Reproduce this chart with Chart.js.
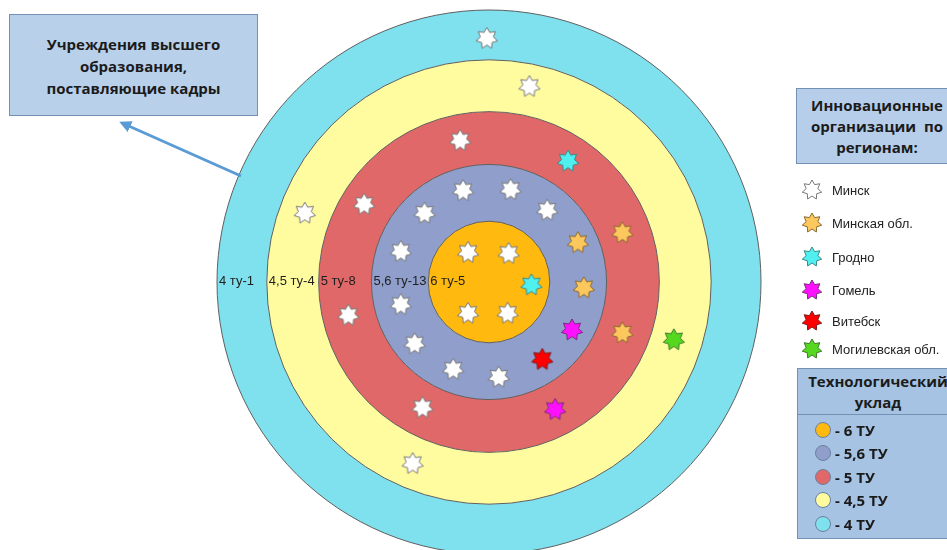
<!DOCTYPE html>
<html lang="ru">
<head>
<meta charset="utf-8">
<script src="https://cdn.jsdelivr.net/npm/chart.js@4.4.1/dist/chart.umd.min.js"></script>
<style>
    html, body { margin: 0; padding: 0; width: 947px; height: 550px; overflow: hidden; background: #ffffff; }
    #rings { position: absolute; left: 216px; top: 9px; }
    #stars { position: absolute; left: 0; top: 0; }
    #arrow { position: absolute; left: 0; top: 0; pointer-events: none; }
    .box {
        position: absolute; box-sizing: border-box; border: 1px solid #7391b3;
        font-family: 'Open Sans', sans-serif; font-weight: 700; font-size: 15px;
        color: #1b1b1b; text-align: center; white-space: pre;
    }
    #callout { left: 9px; top: 14px; width: 249px; height: 102px; background: #b9d0ea;
        display: flex; flex-direction: column; justify-content: center; line-height: 22px; padding-top: 2px; }
    #regionHead { left: 796px; top: 88px; width: 162px; height: 76px; background: #b6cee9;
        display: flex; flex-direction: column; justify-content: center; line-height: 21px; }
    #regionList { position: absolute; left: 800px; top: 0; font-family: 'Liberation Sans', Arial, sans-serif;
        font-size: 13px; color: #222222; }
    .regionRow { position: absolute; left: 0; height: 24px; display: flex; align-items: center; white-space: nowrap; }
    .regionRow span { margin-left: 8px; }
    #tuBox { left: 797px; top: 368px; width: 162px; height: 171px; background: #a6c3e4; text-align: left; }
    #tuHead { height: 46px; border-bottom: 1px solid #7391b3; text-align: center; line-height: 21px; padding-top: 2px; box-sizing: border-box; }
    .tuRow { position: absolute; left: 17px; height: 23px; display: flex; align-items: center; }
    .tuDot { width: 16px; height: 16px; border-radius: 50%; box-sizing: border-box; border: 1px solid #6c7fa0; margin-right: 4px; }
</style>
</head>
<body>
<canvas id="rings" width="546" height="546"></canvas>
<canvas id="stars" width="947" height="550"></canvas>
<svg id="arrow" width="947" height="550">
    <defs>
        <marker id="head" markerWidth="4" markerHeight="4" refX="3" refY="2" orient="auto" markerUnits="strokeWidth">
            <path d="M0,0 L4,2 L0,4 Z" fill="#5b9bd5"/>
        </marker>
    </defs>
    <line x1="241" y1="176" x2="122" y2="123" stroke="#5b9bd5" stroke-width="3" marker-end="url(#head)"/>
</svg>
<div id="callout" class="box">Учреждения высшего
образования,
поставляющие кадры</div>
<div id="regionHead" class="box">Инновационные
организации  по
регионам:</div>
<div id="regionList"></div>
<div id="tuBox" class="box"><div id="tuHead">Технологический
уклад</div></div>

<script>
// rings, outermost first
const ringLevels = ['4', '4,5', '5', '5,6', '6'];
const ringCounts = [1, 4, 8, 13, 5];

// organisations by region, position on the diagram (0,0 = centre)
const regionNames = ['Минск', 'Минская обл.', 'Гродно', 'Гомель', 'Витебск', 'Могилевская обл.'];
const minskPoints = [
    [-2, 248], [41, 199], [-186, 70], [-77, -185], [-29, 144], [-126, 79], [-142, -34],
    [-67, -128], [-26, 93], [22, 94], [59, 73], [-65, 70], [-89, 31], [-89, -23],
    [-75, -63], [-36, -89], [10, -97], [-21, 30], [20, 29], [-21, -32], [19, -32]
];
const minskRegionPoints = [[135, 50], [90, 40], [96, -6], [135, -52]];
const grodnoPoints = [[80, 123], [43, -3]];
const gomelPoints = [[84, -49], [67, -130]];
const vitebskPoints = [[54, -79]];
const mogilevPoints = [[187, -59]];
const regionPoints = [minskPoints, minskRegionPoints, grodnoPoints, gomelPoints, vitebskPoints, mogilevPoints];

// styles
const ringColors = ['#7fe0ee', '#fffc9f', '#e06868', '#8f9eca', '#ffb90f'];
const ringWeights = [50, 52, 53, 57, 61];
const starColors = ['#ffffff', '#fcc75c', '#4ff0ef', '#ff10ff', '#ff0000', '#56d81f'];
const starBorders = ['#777777', '#8a6a30', '#3a8a8a', '#7a2a7a', '#7a1a1a', '#3a7a2a'];
const legendRowTops = [178, 211, 245, 278, 309, 337];

function makeStar(fill, stroke, outer) {
    const inner = outer * 0.6;
    const size = Math.ceil(outer * 2 + 4);
    const c = document.createElement('canvas');
    c.width = size;
    c.height = size;
    const g = c.getContext('2d');
    g.translate(size / 2, size / 2);
    g.beginPath();
    for (let i = 0; i < 14; i++) {
        const r = i % 2 === 0 ? outer : inner;
        const a = -Math.PI / 2 + i * Math.PI / 7;
        if (i === 0) g.moveTo(r * Math.cos(a), r * Math.sin(a));
        else g.lineTo(r * Math.cos(a), r * Math.sin(a));
    }
    g.closePath();
    g.fillStyle = fill;
    g.fill();
    g.lineWidth = 1;
    g.strokeStyle = stroke;
    g.stroke();
    return c;
}

// outline of every ring + its label, taken from the arc geometry
const ringLabelPlugin = {
    id: 'ringLabelPlugin',
    afterDatasetsDraw(chart) {
        const { ctx } = chart;
        ctx.save();
        ctx.strokeStyle = '#5f5f5f';
        ctx.lineWidth = 1;
        chart.data.datasets.forEach((ds, i) => {
            const arc = chart.getDatasetMeta(i).data[0];
            ctx.beginPath();
            ctx.arc(arc.x, arc.y, arc.outerRadius, 0, Math.PI * 2);
            ctx.stroke();
        });
        ctx.font = '13px "Liberation Sans", Arial, sans-serif';
        ctx.fillStyle = '#1e1e1e';
        ctx.textBaseline = 'middle';
        chart.data.datasets.forEach((ds, i) => {
            const arc = chart.getDatasetMeta(i).data[0];
            ctx.fillText(ds.label, arc.x - arc.outerRadius + 2, arc.y - 1);
        });
        ctx.restore();
    }
};

new Chart(document.getElementById('rings'), {
    type: 'doughnut',
    data: {
        labels: ['ТУ'],
        datasets: ringLevels.map((lvl, i) => ({
            label: lvl + ' ту-' + ringCounts[i],
            data: [ringCounts[i]],
            backgroundColor: ringColors[i],
            borderWidth: 0,
            weight: ringWeights[i]
        }))
    },
    options: {
        responsive: false,
        animation: false,
        events: [],
        cutout: 0,
        layout: { padding: 1 },
        plugins: { legend: { display: false }, tooltip: { enabled: false } }
    },
    plugins: [ringLabelPlugin]
});

new Chart(document.getElementById('stars'), {
    type: 'scatter',
    data: {
        datasets: regionNames.map((name, i) => ({
            label: name,
            data: regionPoints[i].map(p => ({ x: p[0], y: p[1] })),
            pointStyle: makeStar(starColors[i], starBorders[i], 11),
            clip: false
        }))
    },
    options: {
        responsive: false,
        animation: false,
        events: [],
        layout: { padding: 0 },
        scales: {
            x: { type: 'linear', display: false, min: -489, max: 458 },
            y: { type: 'linear', display: false, min: -268, max: 282 }
        },
        plugins: { legend: { display: false }, tooltip: { enabled: false } }
    }
});

// region legend
const regionList = document.getElementById('regionList');
regionNames.forEach((name, i) => {
    const row = document.createElement('div');
    row.className = 'regionRow';
    row.style.top = legendRowTops[i] + 'px';
    row.appendChild(makeStar(starColors[i], starBorders[i], 10));
    const t = document.createElement('span');
    t.textContent = name;
    row.appendChild(t);
    regionList.appendChild(row);
});

// technology level legend, innermost first
const tuBox = document.getElementById('tuBox');
ringLevels.slice().reverse().forEach((lvl, i) => {
    const row = document.createElement('div');
    row.className = 'tuRow';
    row.style.top = (49 + i * 23.5) + 'px';
    const dot = document.createElement('div');
    dot.className = 'tuDot';
    dot.style.background = ringColors[ringLevels.length - 1 - i];
    row.appendChild(dot);
    const t = document.createElement('span');
    t.textContent = '- ' + lvl + ' ТУ';
    row.appendChild(t);
    tuBox.appendChild(row);
});
</script>
</body>
</html>
